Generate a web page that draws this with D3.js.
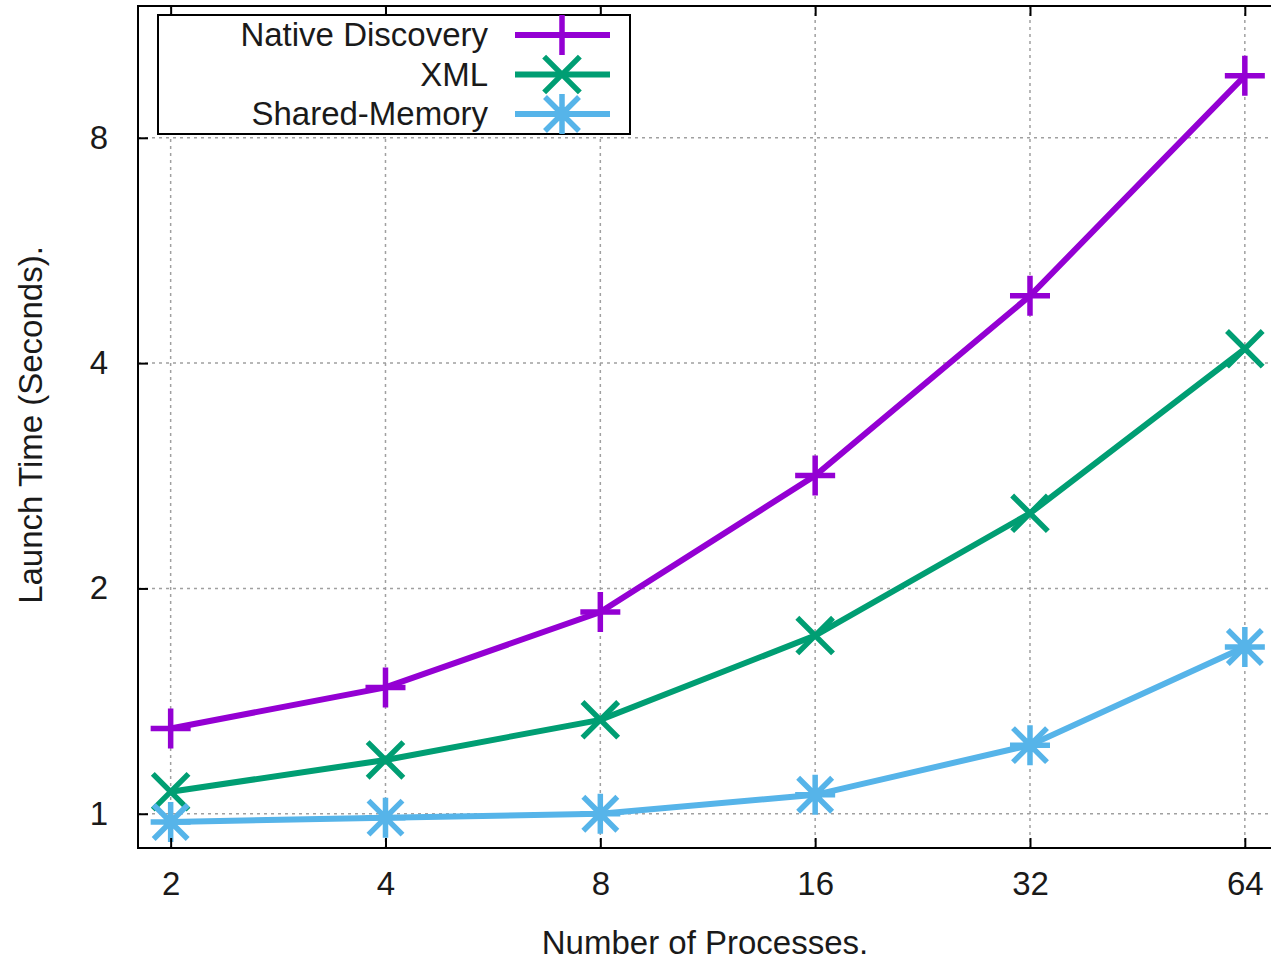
<!DOCTYPE html>
<html>
<head>
<meta charset="utf-8">
<script src="https://cdn.jsdelivr.net/npm/d3@7"></script>
<style>
  body { margin: 0; background: #fff; }
  text { font-family: "Liberation Sans", Arial, sans-serif; fill: #1a1a1a; }
</style>
</head>
<body>
<div id="canvas"></div>
<script>
const processes = [2, 4, 8, 16, 32, 64];
const nativeDiscovery = [1.30, 1.475, 1.86, 2.83, 4.92, 9.68];
const xmlTimes = [1.07, 1.18, 1.335, 1.73, 2.52, 4.18];
const sharedMemory = [0.975, 0.988, 1.0, 1.06, 1.235, 1.67];
const yTicks = [1, 2, 4, 8];

const series = [
    { name: "Native Discovery", values: nativeDiscovery, color: "#9400d3", marker: "plus" },
    { name: "XML", values: xmlTimes, color: "#009e73", marker: "cross" },
    { name: "Shared-Memory", values: sharedMemory, color: "#56b4e9", marker: "star" }
];

const canvas = d3.select("#canvas");
const width = 1271;
const height = 962;
const margin = { top: 6, left: 138, bottom: 114, right: -6 };
const iwidth = width - margin.left - margin.right;
const iheight = height - margin.top - margin.bottom;

const svg = canvas.append("svg")
    .attr("width", width)
    .attr("height", height);

let g = svg.append("g").attr("transform", `translate(${margin.left},${margin.top})`);

const x = d3.scaleLog().base(2)
    .domain([1.8, 71])
    .range([0, iwidth]);

const y = d3.scaleLog().base(2)
    .domain([0.9, 12])
    .range([iheight, 0]);

// grid
g.append("g").selectAll("line").data(processes).enter().append("line")
    .attr("x1", d => x(d)).attr("x2", d => x(d))
    .attr("y1", 0).attr("y2", iheight)
    .attr("stroke", "#a0a0a0").attr("stroke-width", 1.5).attr("stroke-dasharray", "3,4");

g.append("g").selectAll("line").data(yTicks).enter().append("line")
    .attr("x1", 0).attr("x2", iwidth)
    .attr("y1", d => y(d)).attr("y2", d => y(d))
    .attr("stroke", "#a0a0a0").attr("stroke-width", 1.5).attr("stroke-dasharray", "3,4");

// markers
function markerPath(type, s) {
    const p = `M${-s},0L${s},0M0,${-s}L0,${s}`;
    const k = s * 0.85;
    const c = `M${-k},${-k}L${k},${k}M${-k},${k}L${k},${-k}`;
    if (type === "plus") return p;
    if (type === "cross") return c;
    return p + c;
}

const line = d3.line()
    .x(d => x(d[0]))
    .y(d => y(d[1]));

series.forEach(s => {
    const pts = processes.map((p, i) => [p, s.values[i]]);
    g.append("path")
        .datum(pts)
        .attr("fill", "none")
        .attr("stroke", s.color)
        .attr("stroke-width", 6)
        .attr("d", line);
    g.selectAll(null).data(pts).enter().append("path")
        .attr("transform", d => `translate(${x(d[0])},${y(d[1])})`)
        .attr("d", markerPath(s.marker, s.marker === "cross" ? 21 : 20))
        .attr("fill", "none")
        .attr("stroke", s.color)
        .attr("stroke-width", 5.5);
});

// axes with inward ticks
g.append("g")
    .classed("x--axis", true)
    .attr("transform", `translate(0, ${iheight})`)
    .call(d3.axisBottom(x).tickValues(processes).tickSize(-10).tickPadding(24).tickFormat(d3.format("d")));

g.append("g")
    .classed("x--axis-top", true)
    .call(d3.axisTop(x).tickValues(processes).tickSize(-10).tickFormat(""));

g.append("g")
    .classed("y--axis", true)
    .call(d3.axisLeft(y).tickValues(yTicks).tickSize(-10).tickPadding(30).tickFormat(d3.format("d")));

g.selectAll(".domain").remove();
g.selectAll(".tick line").attr("stroke", "#000").attr("stroke-width", 2);
g.selectAll(".tick text").style("font-size", "33px").attr("fill", "#1a1a1a");

g.append("rect")
    .attr("x", 0).attr("y", 0)
    .attr("width", iwidth).attr("height", iheight)
    .attr("fill", "none").attr("stroke", "#000").attr("stroke-width", 2);

// axis titles
svg.append("text")
    .attr("x", 705).attr("y", 954)
    .attr("text-anchor", "middle")
    .style("font-size", "33px")
    .text("Number of Processes.");

svg.append("text")
    .attr("transform", "translate(42,425) rotate(-90)")
    .attr("text-anchor", "middle")
    .style("font-size", "33px")
    .text("Launch Time (Seconds).");

// legend
const legend = svg.append("g");
legend.append("rect")
    .attr("x", 158).attr("y", 15).attr("width", 472).attr("height", 119)
    .attr("fill", "#fff").attr("stroke", "#000").attr("stroke-width", 2);

series.forEach((s, i) => {
    const ly = 35 + i * 39.5;
    legend.append("text")
        .attr("x", 488).attr("y", ly + 11)
        .attr("text-anchor", "end")
        .style("font-size", "33px")
        .text(s.name);
    legend.append("line")
        .attr("x1", 515).attr("x2", 610).attr("y1", ly).attr("y2", ly)
        .attr("stroke", s.color).attr("stroke-width", 6);
    legend.append("path")
        .attr("transform", `translate(562,${ly})`)
        .attr("d", markerPath(s.marker, s.marker === "cross" ? 21 : 20))
        .attr("fill", "none")
        .attr("stroke", s.color)
        .attr("stroke-width", 5.5);
});
</script>
</body>
</html>
